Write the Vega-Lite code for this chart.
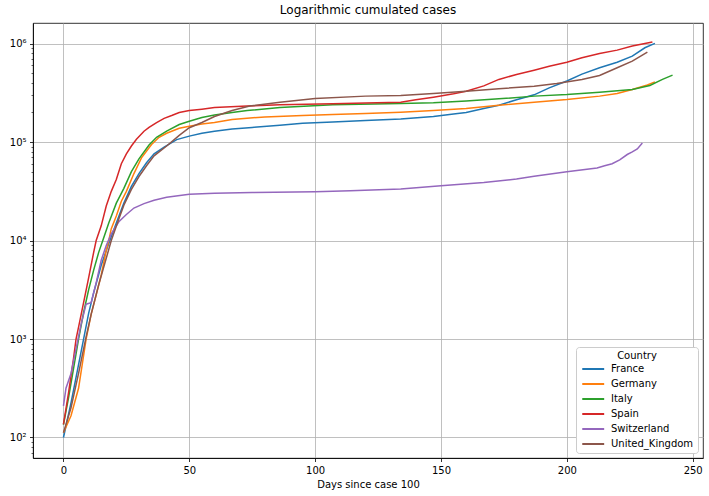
{
"$schema": "https://vega.github.io/schema/vega-lite/v6.json",
"width": 670, "height": 435,
"autosize": {"type": "none"},
"padding": {"left": 33, "top": 23, "right": 6, "bottom": 38},
"title": {"text": "Logarithmic cumulated cases", "fontSize": 12, "font": "DejaVu Sans", "fontWeight": "normal", "offset": 6, "color": "black"},
"data": {"values": [
{"country":"France","day":0,"cases":100},{"country":"France","day":3,"cases":224},{"country":"France","day":6,"cases":550},{"country":"France","day":8,"cases":1000},{"country":"France","day":10,"cases":1820},{"country":"France","day":12,"cases":2950},{"country":"France","day":15,"cases":5620},{"country":"France","day":18,"cases":9330},{"country":"France","day":21,"cases":15100},{"country":"France","day":24,"cases":24000},{"country":"France","day":27,"cases":35500},{"country":"France","day":30,"cases":47900},{"country":"France","day":33,"cases":61700},{"country":"France","day":36,"cases":75900},{"country":"France","day":40,"cases":89100},{"country":"France","day":45,"cases":106000},{"country":"France","day":50,"cases":115000},{"country":"France","day":55,"cases":123000},{"country":"France","day":60,"cases":129000},{"country":"France","day":67,"cases":136000},{"country":"France","day":75,"cases":141000},{"country":"France","day":86,"cases":148000},{"country":"France","day":95,"cases":155000},{"country":"France","day":107,"cases":160000},{"country":"France","day":120,"cases":166000},{"country":"France","day":134,"cases":172000},{"country":"France","day":147,"cases":182000},{"country":"France","day":155,"cases":193000},{"country":"France","day":160,"cases":200000},{"country":"France","day":167,"cases":219000},{"country":"France","day":173,"cases":237000},{"country":"France","day":180,"cases":269000},{"country":"France","day":187,"cases":302000},{"country":"France","day":193,"cases":355000},{"country":"France","day":200,"cases":417000},{"country":"France","day":206,"cases":490000},{"country":"France","day":213,"cases":569000},{"country":"France","day":220,"cases":646000},{"country":"France","day":226,"cases":746000},{"country":"France","day":231,"cases":908000},{"country":"France","day":235,"cases":1005000},
{"country":"Germany","day":0,"cases":112},{"country":"Germany","day":3,"cases":166},{"country":"Germany","day":6,"cases":316},{"country":"Germany","day":9,"cases":1000},{"country":"Germany","day":11,"cases":1780},{"country":"Germany","day":13,"cases":2820},{"country":"Germany","day":15,"cases":4470},{"country":"Germany","day":17,"cases":7940},{"country":"Germany","day":18,"cases":10000},{"country":"Germany","day":19,"cases":13200},{"country":"Germany","day":21,"cases":17800},{"country":"Germany","day":23,"cases":25100},{"country":"Germany","day":25,"cases":31600},{"country":"Germany","day":28,"cases":47900},{"country":"Germany","day":31,"cases":69200},{"country":"Germany","day":35,"cases":94600},{"country":"Germany","day":38,"cases":112000},{"country":"Germany","day":41,"cases":123000},{"country":"Germany","day":46,"cases":138000},{"country":"Germany","day":50,"cases":145000},{"country":"Germany","day":55,"cases":153000},{"country":"Germany","day":60,"cases":158000},{"country":"Germany","day":67,"cases":170000},{"country":"Germany","day":80,"cases":180000},{"country":"Germany","day":95,"cases":186000},{"country":"Germany","day":107,"cases":191000},{"country":"Germany","day":120,"cases":195000},{"country":"Germany","day":134,"cases":201000},{"country":"Germany","day":147,"cases":209000},{"country":"Germany","day":160,"cases":219000},{"country":"Germany","day":173,"cases":237000},{"country":"Germany","day":187,"cases":254000},{"country":"Germany","day":200,"cases":270000},{"country":"Germany","day":213,"cases":293000},{"country":"Germany","day":220,"cases":312000},{"country":"Germany","day":226,"cases":342000},{"country":"Germany","day":232,"cases":380000},{"country":"Germany","day":235,"cases":409000},
{"country":"Italy","day":0,"cases":135},{"country":"Italy","day":2,"cases":251},{"country":"Italy","day":4,"cases":501},{"country":"Italy","day":6,"cases":1000},{"country":"Italy","day":8,"cases":1860},{"country":"Italy","day":10,"cases":3160},{"country":"Italy","day":12,"cases":5010},{"country":"Italy","day":14,"cases":7590},{"country":"Italy","day":16,"cases":10700},{"country":"Italy","day":18,"cases":15100},{"country":"Italy","day":21,"cases":24000},{"country":"Italy","day":24,"cases":33900},{"country":"Italy","day":27,"cases":50100},{"country":"Italy","day":30,"cases":67600},{"country":"Italy","day":34,"cases":93300},{"country":"Italy","day":37,"cases":112000},{"country":"Italy","day":41,"cases":129000},{"country":"Italy","day":46,"cases":151000},{"country":"Italy","day":50,"cases":163000},{"country":"Italy","day":55,"cases":178000},{"country":"Italy","day":60,"cases":188000},{"country":"Italy","day":67,"cases":200000},{"country":"Italy","day":73,"cases":209000},{"country":"Italy","day":86,"cases":224000},{"country":"Italy","day":107,"cases":240000},{"country":"Italy","day":134,"cases":247000},{"country":"Italy","day":147,"cases":251000},{"country":"Italy","day":160,"cases":261000},{"country":"Italy","day":173,"cases":275000},{"country":"Italy","day":187,"cases":293000},{"country":"Italy","day":200,"cases":304000},{"country":"Italy","day":213,"cases":321000},{"country":"Italy","day":226,"cases":342000},{"country":"Italy","day":233,"cases":376000},{"country":"Italy","day":238,"cases":433000},{"country":"Italy","day":242,"cases":479000},
{"country":"Spain","day":0,"cases":136},{"country":"Spain","day":2,"cases":282},{"country":"Spain","day":4,"cases":631},{"country":"Spain","day":5,"cases":1000},{"country":"Spain","day":6,"cases":1320},{"country":"Spain","day":8,"cases":2340},{"country":"Spain","day":10,"cases":4170},{"country":"Spain","day":12,"cases":7590},{"country":"Spain","day":13,"cases":10000},{"country":"Spain","day":15,"cases":14100},{"country":"Spain","day":17,"cases":22400},{"country":"Spain","day":19,"cases":31600},{"country":"Spain","day":21,"cases":41700},{"country":"Spain","day":23,"cases":60300},{"country":"Spain","day":25,"cases":75900},{"country":"Spain","day":27,"cases":91200},{"country":"Spain","day":29,"cases":107000},{"country":"Spain","day":32,"cases":129000},{"country":"Spain","day":34,"cases":141000},{"country":"Spain","day":37,"cases":158000},{"country":"Spain","day":40,"cases":174000},{"country":"Spain","day":43,"cases":186000},{"country":"Spain","day":46,"cases":200000},{"country":"Spain","day":50,"cases":209000},{"country":"Spain","day":55,"cases":216000},{"country":"Spain","day":60,"cases":224000},{"country":"Spain","day":73,"cases":232000},{"country":"Spain","day":86,"cases":240000},{"country":"Spain","day":107,"cases":245000},{"country":"Spain","day":120,"cases":249000},{"country":"Spain","day":134,"cases":254000},{"country":"Spain","day":140,"cases":269000},{"country":"Spain","day":147,"cases":286000},{"country":"Spain","day":155,"cases":309000},{"country":"Spain","day":160,"cases":329000},{"country":"Spain","day":167,"cases":372000},{"country":"Spain","day":173,"cases":433000},{"country":"Spain","day":180,"cases":486000},{"country":"Spain","day":187,"cases":537000},{"country":"Spain","day":193,"cases":589000},{"country":"Spain","day":200,"cases":646000},{"country":"Spain","day":206,"cases":718000},{"country":"Spain","day":213,"cases":794000},{"country":"Spain","day":220,"cases":859000},{"country":"Spain","day":226,"cases":944000},{"country":"Spain","day":234,"cases":1040000},
{"country":"Switzerland","day":0,"cases":209},{"country":"Switzerland","day":1,"cases":316},{"country":"Switzerland","day":3,"cases":447},{"country":"Switzerland","day":5,"cases":794},{"country":"Switzerland","day":7,"cases":1410},{"country":"Switzerland","day":9,"cases":2260},{"country":"Switzerland","day":11,"cases":2340},{"country":"Switzerland","day":13,"cases":3720},{"country":"Switzerland","day":15,"cases":6310},{"country":"Switzerland","day":17,"cases":8910},{"country":"Switzerland","day":19,"cases":11700},{"country":"Switzerland","day":22,"cases":15500},{"country":"Switzerland","day":25,"cases":18400},{"country":"Switzerland","day":28,"cases":21400},{"country":"Switzerland","day":32,"cases":23700},{"country":"Switzerland","day":36,"cases":25700},{"country":"Switzerland","day":41,"cases":27500},{"country":"Switzerland","day":50,"cases":29500},{"country":"Switzerland","day":60,"cases":30200},{"country":"Switzerland","day":75,"cases":30700},{"country":"Switzerland","day":100,"cases":31400},{"country":"Switzerland","day":114,"cases":32100},{"country":"Switzerland","day":134,"cases":33400},{"country":"Switzerland","day":150,"cases":36100},{"country":"Switzerland","day":167,"cases":38900},{"country":"Switzerland","day":180,"cases":42200},{"country":"Switzerland","day":187,"cases":45100},{"country":"Switzerland","day":200,"cases":50100},{"country":"Switzerland","day":212,"cases":54700},{"country":"Switzerland","day":215,"cases":57500},{"country":"Switzerland","day":218,"cases":60300},{"country":"Switzerland","day":221,"cases":66100},{"country":"Switzerland","day":224,"cases":74800},{"country":"Switzerland","day":226,"cases":79400},{"country":"Switzerland","day":228,"cases":85100},{"country":"Switzerland","day":230,"cases":97700},
{"country":"United_Kingdom","day":0,"cases":112},{"country":"United_Kingdom","day":3,"cases":200},{"country":"United_Kingdom","day":6,"cases":447},{"country":"United_Kingdom","day":9,"cases":1050},{"country":"United_Kingdom","day":11,"cases":1780},{"country":"United_Kingdom","day":14,"cases":3550},{"country":"United_Kingdom","day":17,"cases":6610},{"country":"United_Kingdom","day":19,"cases":10000},{"country":"United_Kingdom","day":22,"cases":16600},{"country":"United_Kingdom","day":24,"cases":22900},{"country":"United_Kingdom","day":27,"cases":33100},{"country":"United_Kingdom","day":30,"cases":44700},{"country":"United_Kingdom","day":33,"cases":57500},{"country":"United_Kingdom","day":36,"cases":72400},{"country":"United_Kingdom","day":41,"cases":91200},{"country":"United_Kingdom","day":46,"cases":117000},{"country":"United_Kingdom","day":50,"cases":140000},{"country":"United_Kingdom","day":55,"cases":158000},{"country":"United_Kingdom","day":60,"cases":182000},{"country":"United_Kingdom","day":67,"cases":209000},{"country":"United_Kingdom","day":74,"cases":232000},{"country":"United_Kingdom","day":86,"cases":254000},{"country":"United_Kingdom","day":100,"cases":277000},{"country":"United_Kingdom","day":120,"cases":293000},{"country":"United_Kingdom","day":134,"cases":298000},{"country":"United_Kingdom","day":147,"cases":312000},{"country":"United_Kingdom","day":160,"cases":329000},{"country":"United_Kingdom","day":173,"cases":348000},{"country":"United_Kingdom","day":187,"cases":370000},{"country":"United_Kingdom","day":196,"cases":394000},{"country":"United_Kingdom","day":206,"cases":433000},{"country":"United_Kingdom","day":213,"cases":475000},{"country":"United_Kingdom","day":220,"cases":569000},{"country":"United_Kingdom","day":226,"cases":665000},{"country":"United_Kingdom","day":232,"cases":820000}
]},
"mark": {"type": "line", "strokeWidth": 1.5, "clip": true},
"encoding": {
"x": {"field": "day", "type": "quantitative",
 "scale": {"domain": [-12.1, 254.1], "nice": false, "zero": false},
 "axis": {"values": [0,50,100,150,200,250], "title": "Days since case 100", "grid": true, "gridColor": "#b0b0b0", "gridWidth": 0.8,
  "tickSize": 3.5, "tickWidth": 0.8, "tickColor": "black", "domainColor": "black", "domainWidth": 0.8,
  "labelFont": "DejaVu Sans", "labelFontSize": 10, "labelColor": "black", "labelPadding": 3.5, "labelFlush": false, "labelOverlap": false,
  "titleFont": "DejaVu Sans", "titleFontSize": 10, "titleFontWeight": "normal", "titleColor": "black", "titlePadding": 4}},
"y": {"field": "cases", "type": "quantitative",
 "scale": {"type": "log", "domain": [61.9, 1620000], "nice": false},
 "axis": {"values": [70,80,90,100,200,300,400,500,600,700,800,900,1000,2000,3000,4000,5000,6000,7000,8000,9000,10000,20000,30000,40000,50000,60000,70000,80000,90000,100000,200000,300000,400000,500000,600000,700000,800000,900000,1000000],
  "labelExpr": "datum.value == 100 ? '10²' : datum.value == 1000 ? '10³' : datum.value == 10000 ? '10⁴' : datum.value == 100000 ? '10⁵' : datum.value == 1000000 ? '10⁶' : ''",
  "title": null, "grid": true, "gridColor": "#b0b0b0", "gridWidth": 0.8,
  "gridOpacity": {"condition": {"test": "indexof([100,1000,10000,100000,1000000], datum.value) < 0", "value": 0}, "value": 1},
  "tickSize": {"condition": {"test": "indexof([100,1000,10000,100000,1000000], datum.value) < 0", "value": 2}, "value": 3.5},
  "tickWidth": {"condition": {"test": "indexof([100,1000,10000,100000,1000000], datum.value) < 0", "value": 0.6}, "value": 0.8},
  "tickColor": "black", "domainColor": "black", "domainWidth": 0.8,
  "labelFont": "DejaVu Sans", "labelFontSize": 10, "labelColor": "black", "labelPadding": 3.5, "labelFlush": false, "labelOverlap": false}},
"color": {"field": "country", "type": "nominal",
 "scale": {"domain": ["France","Germany","Italy","Spain","Switzerland","United_Kingdom"], "range": ["#1f77b4","#ff7f0e","#2ca02c","#d62728","#9467bd","#8c564b"]},
 "legend": {"title": "Country", "orient": "bottom-right", "offset": 5, "fillColor": "white", "strokeColor": "#cccccc", "cornerRadius": 3, "padding": 4,
  "titleFont": "DejaVu Sans", "titleFontSize": 10, "titleFontWeight": "normal", "titleColor": "black", "titleAnchor": "middle", "titlePadding": 3,
  "labelFont": "DejaVu Sans", "labelFontSize": 10, "labelColor": "black", "symbolType": "M-1,0H7", "symbolSize": 30, "symbolStrokeWidth": 2, "labelOffset": 21, "rowPadding": 5}}
},
"config": {"view": {"stroke": "black", "strokeWidth": 0.8}, "font": "DejaVu Sans"}
}
